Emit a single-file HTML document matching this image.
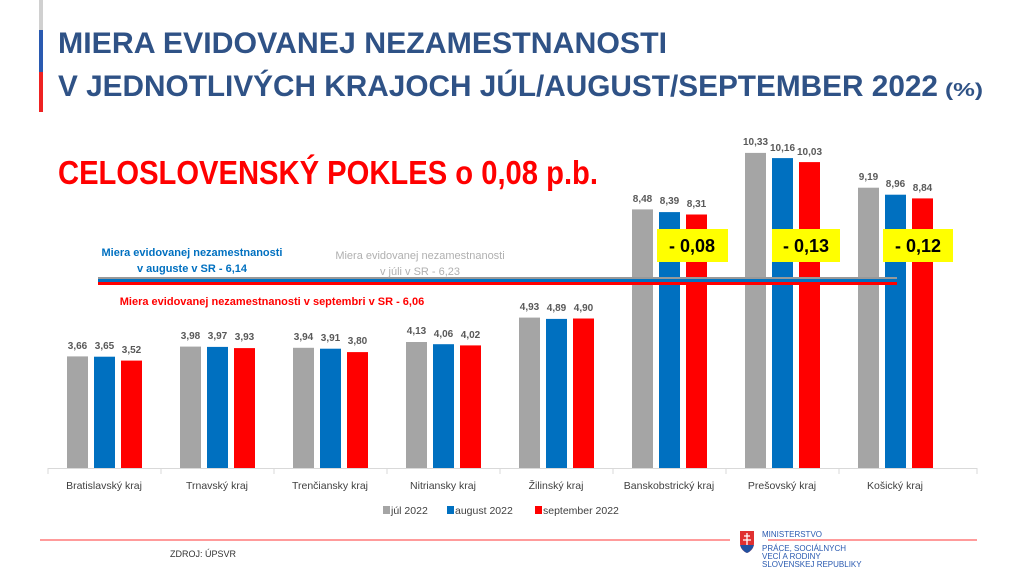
<!DOCTYPE html><html><head><meta charset="utf-8"><style>body{margin:0;background:#fff}svg{display:block}text{font-family:"Liberation Sans",sans-serif}</style></head><body>
<svg width="1019" height="573" viewBox="0 0 1019 573" xmlns="http://www.w3.org/2000/svg">
<rect x="39" y="0" width="4" height="30" fill="#d0d0d0"/><rect x="39" y="30" width="4" height="42" fill="#2a5ab0"/><rect x="39" y="72" width="4" height="40" fill="#ee2222"/>
<g font-weight="bold" fill="#2f5286">
<text x="58" y="53" font-size="30" textLength="609" lengthAdjust="spacingAndGlyphs">MIERA EVIDOVANEJ NEZAMESTNANOSTI</text>
<text x="58" y="96" font-size="30" textLength="880" lengthAdjust="spacingAndGlyphs">V JEDNOTLIVÝCH KRAJOCH JÚL/AUGUST/SEPTEMBER 2022</text>
<text x="945" y="96" font-size="18" textLength="38" lengthAdjust="spacingAndGlyphs">(%)</text></g>
<text x="58" y="184" font-size="33" font-weight="bold" fill="#ff0000" textLength="540" lengthAdjust="spacingAndGlyphs">CELOSLOVENSKÝ POKLES o 0,08 p.b.</text>
<g>
<rect x="67" y="356.4" width="21" height="111.6" fill="#a5a5a5"/><rect x="94" y="356.7" width="21" height="111.3" fill="#0070c0"/><rect x="121" y="360.6" width="21" height="107.4" fill="#ff0000"/>
<rect x="180" y="346.6" width="21" height="121.4" fill="#a5a5a5"/><rect x="207" y="346.9" width="21" height="121.1" fill="#0070c0"/><rect x="234" y="348.1" width="21" height="119.9" fill="#ff0000"/>
<rect x="293" y="347.8" width="21" height="120.2" fill="#a5a5a5"/><rect x="320" y="348.7" width="21" height="119.3" fill="#0070c0"/><rect x="347" y="352.1" width="21" height="115.9" fill="#ff0000"/>
<rect x="406" y="342" width="21" height="126" fill="#a5a5a5"/><rect x="433" y="344.2" width="21" height="123.8" fill="#0070c0"/><rect x="460" y="345.4" width="21" height="122.6" fill="#ff0000"/>
<rect x="519" y="317.6" width="21" height="150.4" fill="#a5a5a5"/><rect x="546" y="318.9" width="21" height="149.1" fill="#0070c0"/><rect x="573" y="318.5" width="21" height="149.5" fill="#ff0000"/>
<rect x="632" y="209.4" width="21" height="258.6" fill="#a5a5a5"/><rect x="659" y="212.1" width="21" height="255.9" fill="#0070c0"/><rect x="686" y="214.5" width="21" height="253.5" fill="#ff0000"/>
<rect x="745" y="152.9" width="21" height="315.1" fill="#a5a5a5"/><rect x="772" y="158.1" width="21" height="309.9" fill="#0070c0"/><rect x="799" y="162.1" width="21" height="305.9" fill="#ff0000"/>
<rect x="858" y="187.7" width="21" height="280.3" fill="#a5a5a5"/><rect x="885" y="194.7" width="21" height="273.3" fill="#0070c0"/><rect x="912" y="198.4" width="21" height="269.6" fill="#ff0000"/>
</g>
<g font-size="10" font-weight="bold" fill="#595959" text-anchor="middle">
<text x="77.5" y="349">3,66</text><text x="104.5" y="349">3,65</text><text x="131.5" y="353">3,52</text>
<text x="190.5" y="339">3,98</text><text x="217.5" y="339">3,97</text><text x="244.5" y="340">3,93</text>
<text x="303.5" y="340">3,94</text><text x="330.5" y="341">3,91</text><text x="357.5" y="344">3,80</text>
<text x="416.5" y="334">4,13</text><text x="443.5" y="337">4,06</text><text x="470.5" y="338">4,02</text>
<text x="529.5" y="310">4,93</text><text x="556.5" y="311">4,89</text><text x="583.5" y="311">4,90</text>
<text x="642.5" y="202">8,48</text><text x="669.5" y="204">8,39</text><text x="696.5" y="207">8,31</text>
<text x="755.5" y="145">10,33</text><text x="782.5" y="151">10,16</text><text x="809.5" y="155">10,03</text>
<text x="868.5" y="180">9,19</text><text x="895.5" y="187">8,96</text><text x="922.5" y="191">8,84</text>
</g>
<rect x="98" y="277" width="799" height="3" fill="#999"/><rect x="98" y="279" width="799" height="3" fill="#0070c0"/><rect x="98" y="282" width="799" height="3" fill="#ff0000"/>
<g font-size="11" font-weight="bold" text-anchor="middle">
<text x="192" y="256" fill="#0070c0">Miera evidovanej nezamestnanosti</text><text x="192" y="272" fill="#0070c0">v auguste v SR - 6,14</text>
<text x="420" y="259" fill="#b0b0b0" font-weight="normal">Miera evidovanej nezamestnanosti</text><text x="420" y="275" fill="#b0b0b0" font-weight="normal">v júli v SR - 6,23</text>
<text x="272" y="305" fill="#ff0000">Miera evidovanej nezamestnanosti v septembri v SR - 6,06</text></g>
<g font-size="18" font-weight="bold" text-anchor="middle">
<rect x="657" y="229" width="71" height="33" fill="#ffff00"/><text x="692" y="252">- 0,08</text>
<rect x="772" y="229" width="68" height="33" fill="#ffff00"/><text x="806" y="252">- 0,13</text>
<rect x="883" y="229" width="70" height="33" fill="#ffff00"/><text x="918" y="252">- 0,12</text></g>
<line x1="48" y1="468.5" x2="977" y2="468.5" stroke="#d9d9d9"/>
<g stroke="#d9d9d9"><line x1="48" y1="468" x2="48" y2="474"/><line x1="161" y1="468" x2="161" y2="474"/><line x1="274" y1="468" x2="274" y2="474"/><line x1="387" y1="468" x2="387" y2="474"/><line x1="500" y1="468" x2="500" y2="474"/><line x1="613" y1="468" x2="613" y2="474"/><line x1="726" y1="468" x2="726" y2="474"/><line x1="839" y1="468" x2="839" y2="474"/><line x1="977" y1="468" x2="977" y2="474"/></g>
<g font-size="10.5" fill="#404040" text-anchor="middle">
<text x="104" y="489">Bratislavský kraj</text><text x="217" y="489">Trnavský kraj</text><text x="330" y="489">Trenčiansky kraj</text><text x="443" y="489">Nitriansky kraj</text><text x="556" y="489">Žilinský kraj</text><text x="669" y="489">Banskobstrický kraj</text><text x="782" y="489">Prešovský kraj</text><text x="895" y="489">Košický kraj</text></g>
<g font-size="10.5" fill="#404040">
<rect x="383" y="506" width="7" height="8" fill="#a5a5a5"/><text x="391" y="514">júl 2022</text>
<rect x="447" y="506" width="7" height="8" fill="#0070c0"/><text x="455" y="514">august 2022</text>
<rect x="535" y="506" width="7" height="8" fill="#ff0000"/><text x="543" y="514">september 2022</text></g>
<rect x="40" y="539" width="690" height="2" fill="#ff9b9b"/><rect x="768" y="539" width="209" height="2" fill="#ff9b9b"/>
<text x="170" y="557" font-size="9" fill="#333">ZDROJ: ÚPSVR</text>
<path d="M740 531 h14 v12 q0 7 -7 10 q-7 -3 -7 -10z" fill="#e03030"/><path d="M740 545 h14 q-2 6 -7 8 q-5 -2 -7 -8z" fill="#2050a0"/><path d="M747 533 v12 M744 536 h6 M743 540 h8" stroke="#fff" stroke-width="1.3"/>
<g font-size="8" fill="#2a5ab0"><text x="762" y="537">MINISTERSTVO</text><text x="762" y="551">PRÁCE, SOCIÁLNYCH</text><text x="762" y="559">VECÍ A RODINY</text><text x="762" y="567">SLOVENSKEJ REPUBLIKY</text></g>
</svg></body></html>
